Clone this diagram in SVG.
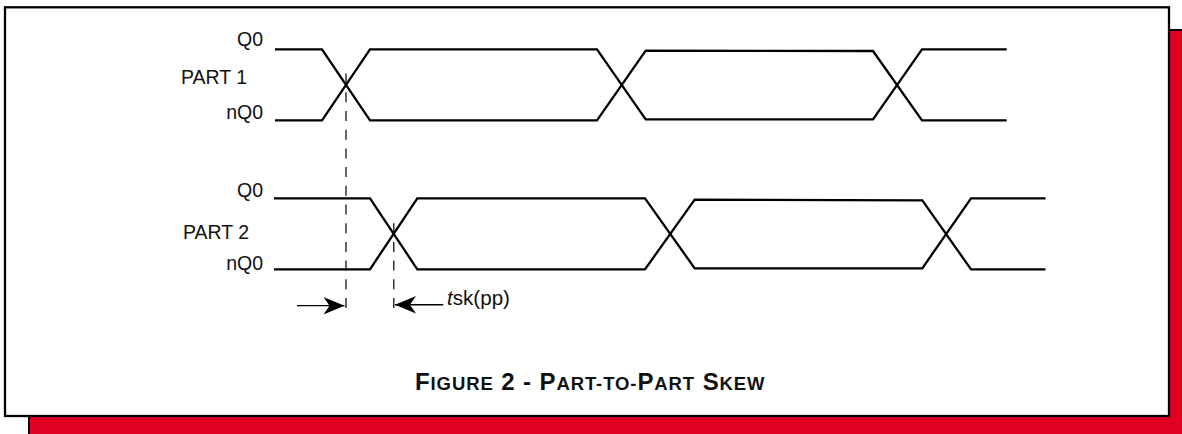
<svg xmlns="http://www.w3.org/2000/svg" width="1182" height="434" viewBox="0 0 1182 434">
<style>
.w{fill:none;stroke:#000;stroke-width:2.3}
.d{fill:none;stroke:#000;stroke-width:1.2;stroke-dasharray:10 8.7}
.t{font-family:"Liberation Sans",Arial,sans-serif;font-size:19.5px;fill:#111}
.c{font-family:"Liberation Sans",Arial,sans-serif;font-weight:bold;font-size:24px;letter-spacing:.9px;fill:#111}
.c tspan{font-size:18.5px}
.a{fill:none;stroke:#000;stroke-width:1.2}
</style>
<defs>
<marker id="ah" markerUnits="userSpaceOnUse" markerWidth="24" markerHeight="20" refX="21" refY="9" orient="auto"><path d="M0 0.3L21 9L0 17.7L6 9Z" fill="#000"/></marker>
</defs>
<rect width="1182" height="434" fill="#fff"/>
<rect id="shadow" x="29" y="30" width="1154" height="405" fill="#df0022" stroke="#000" stroke-width="2"/>
<rect id="frame" x="5" y="7.3" width="1164" height="408.7" fill="#fff" stroke="#000" stroke-width="2.3"/>
<g id="connectors">
<path class="d" d="M346 308V68"/>
<path class="d" d="M393.8 308V223"/>
<path class="a" d="M297 305.7H344.5" marker-end="url(#ah)"/>
<path class="a" style="stroke-width:1.6" d="M443.3 304.8H395" marker-end="url(#ah)"/>
</g>
<g id="part1">
<path class="w" d="M275 49.3H322L370 120.3H597L645.7 50.7L873 51L922 120.3H1006.7"/>
<path class="w" d="M275 120.3H322L370 49.3H597L645.7 119.3H873L922 49.3H1006.7"/>
<text class="t" x="263" y="46" text-anchor="end">Q0</text>
<text class="t" x="181" y="84">PART 1</text>
<text class="t" x="263" y="119" text-anchor="end">nQ0</text>
</g>
<g id="part2">
<path class="w" d="M274 198.3H370L417.3 269.3H645L694.7 199.7L922.3 200.3L971 269.3H1045.5"/>
<path class="w" d="M274 269.3H370L417.3 198.3H645L694.7 268.3H922.3L971 198.3H1045.5"/>
<text class="t" x="263" y="197" text-anchor="end">Q0</text>
<text class="t" x="183" y="239">PART 2</text>
<text class="t" x="263" y="270" text-anchor="end">nQ0</text>
</g>
<g id="label"><text class="t" style="font-size:20.6px" x="447" y="305"><tspan font-style="italic">t</tspan>sk(pp)</text></g>
<g id="caption"><text class="c" x="415" y="390">F<tspan>IGURE</tspan> 2 - P<tspan>ART-TO-</tspan>P<tspan>ART</tspan> S<tspan>KEW</tspan></text></g>
</svg>
